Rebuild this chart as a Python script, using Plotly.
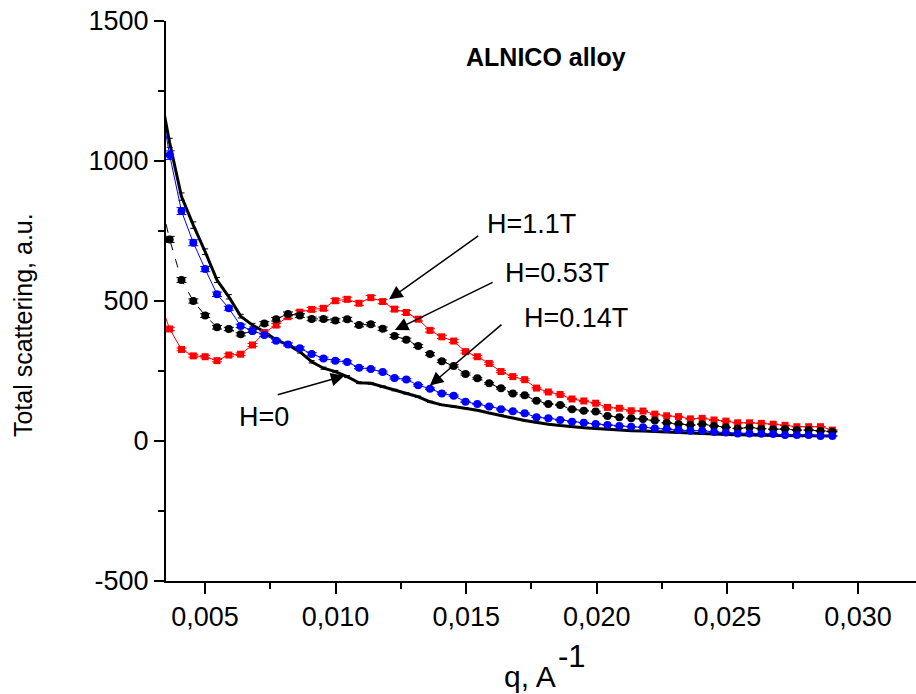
import plotly.graph_objects as go

# Scattering vector q (A^-1); the first point lies just left of the visible range
q = [0.003197, 0.003650, 0.004103, 0.004556, 0.005009, 0.005462, 0.005915, 0.006368,
     0.006821, 0.007274, 0.007727, 0.008180, 0.008633, 0.009086, 0.009539, 0.009992,
     0.010445, 0.010898, 0.011351, 0.011804, 0.012257, 0.012710, 0.013163, 0.013616,
     0.014069, 0.014522, 0.014975, 0.015428, 0.015881, 0.016334, 0.016787, 0.017240,
     0.017693, 0.018146, 0.018599, 0.019052, 0.019505, 0.019958, 0.020411, 0.020864,
     0.021317, 0.021770, 0.022223, 0.022676, 0.023129, 0.023582, 0.024035, 0.024488,
     0.024941, 0.025394, 0.025847, 0.026300, 0.026753, 0.027206, 0.027659, 0.028112,
     0.028565, 0.029018]

# Total scattering (a.u.) for each applied field
h_0 = [1290, 1065, 873, 771, 676, 575, 515, 446, 414, 390, 361, 343, 319, 283, 260, 248,
       230, 208, 206, 194, 182, 170, 158, 140, 129, 123, 117, 110, 100, 92, 82, 73, 66, 60,
       55, 50, 47, 45, 42, 39, 37, 36, 34, 33, 31, 28, 25, 24, 23, 22, 21, 21, 20, 20, 19,
       19, 18, 18]
h_014 = [1260, 1021, 821, 708, 614, 524, 474, 411, 394, 379, 358, 345, 331, 311, 295, 287,
         282, 262, 257, 246, 225, 220, 199, 187, 170, 162, 140, 132, 123, 113, 106, 99, 85,
         81, 75, 69, 65, 61, 57, 54, 51, 49, 45, 43, 39, 37, 37, 32, 30, 27, 27, 26, 25, 21,
         21, 21, 18, 18]
h_053 = [900, 720, 575, 500, 448, 406, 400, 381, 393, 420, 435, 454, 448, 436, 436, 430,
         435, 414, 417, 401, 375, 362, 339, 311, 285, 268, 239, 224, 206, 188, 170, 163, 144,
         132, 129, 113, 108, 105, 89, 85, 81, 79, 73, 65, 61, 57, 60, 54, 49, 45, 48, 44, 42,
         43, 39, 39, 36, 33]
h_11 = [520, 400, 327, 304, 301, 287, 307, 310, 343, 387, 414, 444, 460, 470, 474, 501,
        506, 492, 512, 498, 471, 459, 435, 395, 372, 357, 319, 301, 277, 248, 230, 219, 189,
        175, 166, 150, 143, 135, 120, 117, 108, 107, 96, 90, 87, 79, 81, 75, 71, 65, 65, 63,
        60, 56, 51, 51, 51, 39]

x_tick_vals = [0.005, 0.010, 0.015, 0.020, 0.025, 0.030]
x_tick_text = ["0,005", "0,010", "0,015", "0,020", "0,025", "0,030"]
y_tick_vals = [-500, 0, 500, 1000, 1500]
y_tick_text = ["-500", "0", "500", "1000", "1500"]

FONT = "Liberation Sans, Arial, sans-serif"


def err(color, w=5):
    return dict(type="percent", value=1.5, width=w, thickness=1, color=color)


fig = go.Figure()

fig.add_trace(go.Scatter(
    x=q, y=h_0, mode="lines", line=dict(color="black", width=3),
    error_y=err("black", 3)))

fig.add_trace(go.Scatter(
    x=q, y=h_11, mode="lines+markers",
    line=dict(color="red", width=1),
    marker=dict(symbol="square", size=7, color="red"),
    error_y=err("red")))

fig.add_trace(go.Scatter(
    x=q, y=h_053, mode="lines+markers",
    line=dict(color="black", width=1, dash="dash"),
    marker=dict(symbol="circle", size=8, color="black"),
    error_y=err("black")))

fig.add_trace(go.Scatter(
    x=q, y=h_014, mode="lines+markers",
    line=dict(color="blue", width=1),
    marker=dict(symbol="circle", size=8, color="blue"),
    error_y=err("blue")))

annotations = []

# Field labels and their pointer arrows (tip on the curve, tail near the label)
labels = [
    ("H=1.1T", 0.01571, 775),
    ("H=0.53T", 0.01640, 600),
    ("H=0.14T", 0.01713, 439),
    ("H=0", 0.00622, 87),
]
for text, lx, ly in labels:
    annotations.append(dict(x=lx, y=ly, xref="x", yref="y", text=text, showarrow=False,
                            xanchor="left", yanchor="middle",
                            font=dict(family=FONT, size=27, color="black")))

arrows = [
    (0.01205, 506, 0.01552, 736),
    (0.01227, 396, 0.01607, 569),
    (0.01361, 198, 0.01641, 420),
    (0.01034, 233, 0.00773, 164),
]
for tx, ty, sx, sy in arrows:
    annotations.append(dict(x=tx, y=ty, ax=sx, ay=sy, xref="x", yref="y",
                            axref="x", ayref="y", text="", showarrow=True,
                            arrowhead=2, arrowsize=1.8, arrowwidth=1.5,
                            arrowcolor="black", standoff=0))

annotations.append(dict(x=0.5067, y=0.9352, xref="paper", yref="paper",
                        text="<b>ALNICO alloy</b>", showarrow=False,
                        xanchor="center", yanchor="middle",
                        font=dict(family=FONT, size=25, color="black")))

annotations.append(dict(x=-0.1907, y=0.457, xref="paper", yref="paper",
                        text="Total scattering, a.u.", textangle=-90, showarrow=False,
                        xanchor="center", yanchor="middle",
                        font=dict(family=FONT, size=25, color="black")))

annotations.append(dict(x=0.4848, y=-0.1714, xref="paper", yref="paper",
                        text="q, A", showarrow=False,
                        xanchor="center", yanchor="middle",
                        font=dict(family=FONT, size=30, color="black")))
annotations.append(dict(x=0.5413, y=-0.134, xref="paper", yref="paper",
                        text="-1", showarrow=False,
                        xanchor="center", yanchor="middle",
                        font=dict(family=FONT, size=31, color="black")))

fig.update_layout(
    width=916, height=694,
    margin=dict(l=166, r=0, t=21, b=113),
    plot_bgcolor="white", paper_bgcolor="white",
    showlegend=False,
    font=dict(family=FONT, color="black"),
    annotations=annotations,
)

fig.update_xaxes(
    range=[0.00351, 0.03222],
    showline=True, linecolor="black", linewidth=2,
    showgrid=False, zeroline=False,
    ticks="outside", ticklen=11, tickwidth=2, tickcolor="black",
    tickmode="array", tickvals=x_tick_vals, ticktext=x_tick_text,
    tickfont=dict(family=FONT, size=27, color="black"),
    minor=dict(ticks="outside", ticklen=6, tickwidth=2, tickcolor="black",
               tick0=0, dtick=0.0025, showgrid=False),
)
fig.update_yaxes(
    range=[-500, 1500],
    showline=True, linecolor="black", linewidth=2,
    showgrid=False, zeroline=False,
    ticks="outside", ticklen=10, tickwidth=2, tickcolor="black",
    tickmode="array", tickvals=y_tick_vals, ticktext=y_tick_text,
    tickfont=dict(family=FONT, size=27, color="black"),
    minor=dict(ticks="outside", ticklen=6, tickwidth=2, tickcolor="black",
               tick0=0, dtick=250, showgrid=False),
)

fig.write_html("out.html")
